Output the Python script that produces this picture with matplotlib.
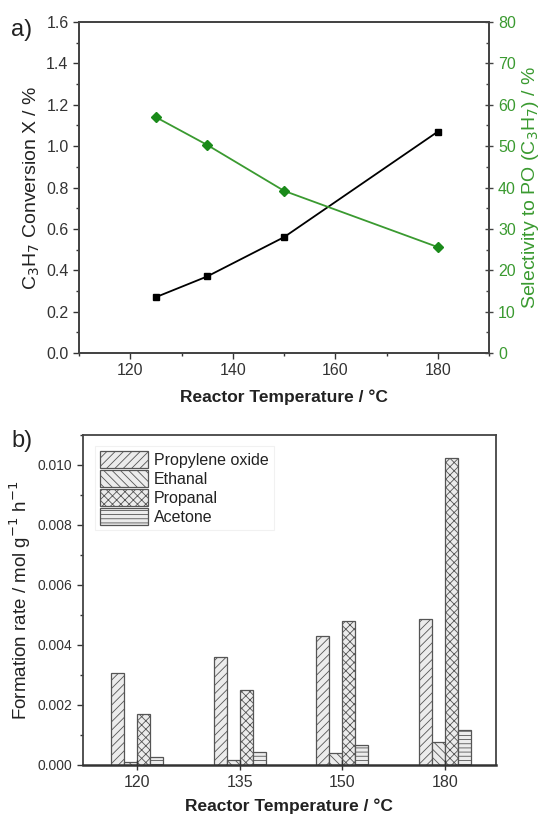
import matplotlib
matplotlib.use("Agg")
import matplotlib.pyplot as plt
import numpy as np
from matplotlib.ticker import MultipleLocator

plt.rcParams['font.family'] = ['Liberation Sans', 'DejaVu Sans']
plt.rcParams['hatch.linewidth'] = 0.6
plt.rcParams['hatch.color'] = '#777777'

# Panel a data
temps_a = [125, 135, 150, 180]
conversion = [0.27, 0.37, 0.56, 1.07]
selectivity = [57, 50.3, 39.2, 25.6]

# Panel b data
categories = ['120', '135', '150', '180']
propylene_oxide = [0.00305, 0.0036, 0.0043, 0.00487]
ethanal = [0.0001, 0.00018, 0.0004, 0.00075]
propanal = [0.0017, 0.0025, 0.0048, 0.01022]
acetone = [0.00027, 0.00042, 0.00068, 0.00115]
series_names = ['Propylene oxide', 'Ethanal', 'Propanal', 'Acetone']

green = '#3a9a30'
fig = plt.figure(figsize=(5.41, 8.16), dpi=100)

# ---------- Panel a ----------
ax1 = fig.add_axes([0.146, 0.5674, 0.758, 0.4056])
ax1.plot(temps_a, conversion, color='black', marker='s', markersize=5, lw=1.3)
ax1.set_xlim(110, 190)
ax1.set_ylim(0, 1.6)
ax1.xaxis.set_major_locator(MultipleLocator(20))
ax1.xaxis.set_minor_locator(MultipleLocator(10))
ax1.yaxis.set_major_locator(MultipleLocator(0.2))
ax1.yaxis.set_minor_locator(MultipleLocator(0.1))
ax1.yaxis.set_major_formatter(matplotlib.ticker.FormatStrFormatter('%.1f'))
ax1.tick_params(axis='both', which='major', labelsize=11.5, direction='out', length=4, width=1, colors='#333333', labelcolor='#333333')
ax1.tick_params(axis='both', which='minor', direction='out', length=2.5, width=1, colors='#333333')
ax1.tick_params(axis='x', top=False)
ax1.set_ylabel('C$_3$H$_7$ Conversion X / %', fontsize=14, color='#222222', labelpad=3)
ax1.set_xlabel('Reactor Temperature / °C', fontsize=12.5, fontweight='bold', color='#222222', labelpad=8)
for s in ax1.spines.values():
    s.set_color('#444444')
    s.set_linewidth(1.3)

ax2 = ax1.twinx()
ax2.plot(temps_a, selectivity, color=green, marker='D', markersize=5, lw=1.3,
         markerfacecolor='#1a8a1a', markeredgecolor='#1a8a1a')
ax2.set_ylim(0, 80)
ax2.yaxis.set_major_locator(MultipleLocator(10))
ax2.yaxis.set_minor_locator(MultipleLocator(5))
ax2.tick_params(axis='y', which='major', labelsize=11.5, direction='inout', length=6, width=1, colors='#444444', labelcolor=green)
ax2.tick_params(axis='y', which='minor', direction='in', length=2.5, width=1, colors='#444444')
ax2.set_ylabel('Selectivity to PO (C$_3$H$_7$) / %', fontsize=14, color=green, labelpad=3)
for s in ax2.spines.values():
    s.set_color('#444444')
    s.set_linewidth(1.3)

fig.text(0.02, 0.956, 'a)', fontsize=17, color='#222222')

# ---------- Panel b ----------
ax3 = fig.add_axes([0.153, 0.0625, 0.764, 0.4045])
x = np.arange(len(categories))
w = 0.127
hatches = ['////', '\\\\\\\\', 'xxxx', '----']
data = [propylene_oxide, ethanal, propanal, acetone]
for i, (vals, name, h) in enumerate(zip(data, series_names, hatches)):
    ax3.bar(x + (i - 1.5) * w, vals, width=w, color='#ececec', edgecolor='#555555',
            hatch=h, lw=0.9, label=name)
ax3.set_xlim(-0.53, 3.5)
ax3.set_ylim(0, 0.011)
ax3.set_xticks(x)
ax3.set_xticklabels(categories)
ax3.yaxis.set_major_locator(MultipleLocator(0.002))
ax3.yaxis.set_minor_locator(MultipleLocator(0.001))
ax3.yaxis.set_major_formatter(matplotlib.ticker.FormatStrFormatter('%.3f'))
ax3.tick_params(axis='y', which='major', labelsize=10, direction='out', length=4, width=1, colors='#333333')
ax3.tick_params(axis='y', which='minor', direction='out', length=2.5, width=1, colors='#333333')
ax3.tick_params(axis='x', which='major', labelsize=11.5, direction='inout', length=7, width=1, colors='#333333')
ax3.set_ylabel('Formation rate / mol g$^{-1}$ h$^{-1}$', fontsize=13.5, color='#222222', labelpad=3)
ax3.set_xlabel('Reactor Temperature / °C', fontsize=12.5, fontweight='bold', color='#222222', labelpad=6)
for s in ax3.spines.values():
    s.set_color('#444444')
    s.set_linewidth(1.3)
ax3.spines['bottom'].set_linewidth(1.8)
ax3.spines['bottom'].set_color('#333333')
leg = ax3.legend(loc='upper left', fontsize=11.5, frameon=True, fancybox=False,
                 handlelength=3.0, handleheight=1.3, handletextpad=0.4,
                 labelspacing=0.1, borderpad=0.3, bbox_to_anchor=(0.01, 0.99))
leg.get_frame().set_edgecolor('#eeeeee')
leg.get_frame().set_linewidth(0.8)
for t in leg.get_texts():
    t.set_color('#222222')

fig.text(0.022, 0.452, 'b)', fontsize=17, color='#222222')

fig.savefig('out.png', dpi=100)
